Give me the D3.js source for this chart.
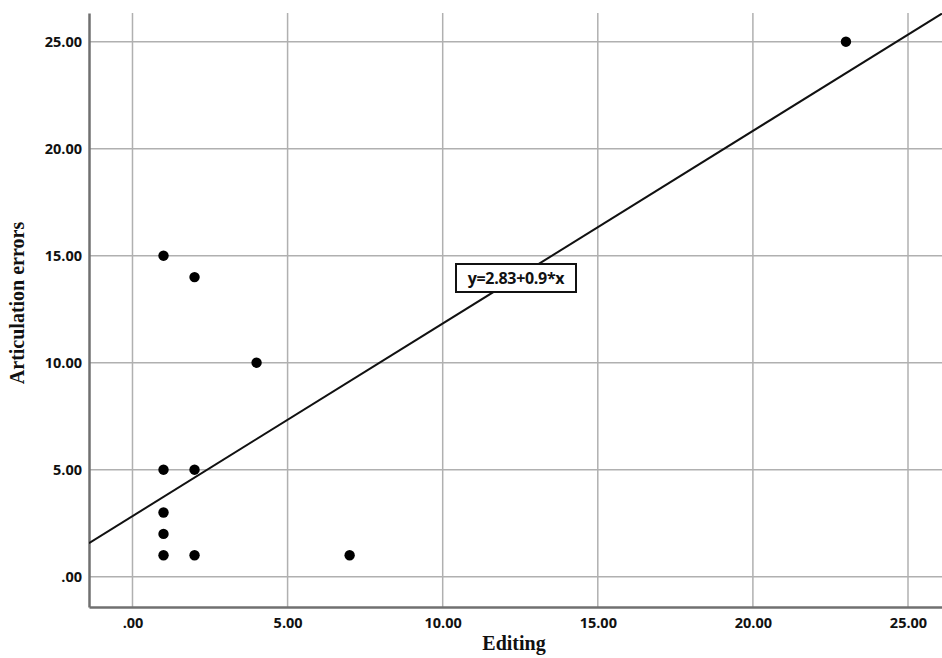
<!DOCTYPE html>
<html>
<head>
<meta charset="utf-8">
<title>Editing vs Articulation errors</title>
<script src="https://d3js.org/d3.v7.min.js"></script>
<style>
  body { margin: 0; background: #fff; }
  .tick text { font-family: "Open Sans", "DejaVu Sans", sans-serif; font-weight: 700; font-size: 14.5px; fill: #111; }
  .title { font-family: "Liberation Serif", "DejaVu Serif", serif; font-weight: 700; font-size: 20px; fill: #111; }
</style>
</head>
<body>
<svg id="chart" width="942" height="658"></svg>
<script>
// data
var editing = [1, 2, 4, 1, 2, 1, 1, 1, 2, 7, 23];
var articulation = [15, 14, 10, 5, 5, 3, 2, 1, 1, 1, 25];
var tickValues = [0, 5, 10, 15, 20, 25];
var intercept = 2.83, slope = 0.9;
var fitLabel = "y=2.83+0.9*x";

var svg = d3.select("#chart");
var pLeft = 89, pRight = 942, pTop = 13, pBottom = 607;

var x = d3.scaleLinear().domain([-1.402, 26.096]).range([pLeft, pRight]);
var y = d3.scaleLinear().domain([-1.416, 26.34]).range([pBottom, pTop]);

function fmt(d) { return d === 0 ? ".00" : d3.format(".2f")(d); }

svg.append("defs").append("clipPath").attr("id", "clip")
  .append("rect").attr("x", pLeft).attr("y", pTop).attr("width", pRight - pLeft).attr("height", pBottom - pTop);

// grid lines
svg.append("g").selectAll("line").data(tickValues).join("line")
  .attr("x1", d => x(d)).attr("x2", d => x(d))
  .attr("y1", pTop).attr("y2", pBottom)
  .attr("stroke", "#b0b0b0").attr("stroke-width", 1.5);
svg.append("g").selectAll("line").data(tickValues).join("line")
  .attr("x1", pLeft).attr("x2", pRight)
  .attr("y1", d => y(d)).attr("y2", d => y(d))
  .attr("stroke", "#b0b0b0").attr("stroke-width", 1.5);

// axes
var xAxis = svg.append("g").attr("transform", "translate(0," + pBottom + ")")
  .call(d3.axisBottom(x).tickValues(tickValues).tickFormat(fmt).tickSize(0).tickPadding(11));
var yAxis = svg.append("g").attr("transform", "translate(" + pLeft + ",0)")
  .call(d3.axisLeft(y).tickValues(tickValues).tickFormat(fmt).tickSize(0).tickPadding(7));
xAxis.select(".domain").attr("stroke", "#707070").attr("stroke-width", 2.5);
yAxis.select(".domain").attr("stroke", "#707070").attr("stroke-width", 2.5);

// fit line
var xd = x.domain();
svg.append("line")
  .attr("clip-path", "url(#clip)")
  .attr("x1", x(xd[0])).attr("y1", y(intercept + slope * xd[0]))
  .attr("x2", x(xd[1])).attr("y2", y(intercept + slope * xd[1]))
  .attr("stroke", "#111").attr("stroke-width", 2);

// points
svg.append("g").selectAll("circle").data(editing).join("circle")
  .attr("cx", d => x(d))
  .attr("cy", (d, i) => y(articulation[i]))
  .attr("r", 5.2)
  .attr("fill", "#000");

// fit label
var lab = svg.append("g").attr("transform", "translate(516,278)");
lab.append("rect")
  .attr("x", -60).attr("y", -14).attr("width", 120).attr("height", 28)
  .attr("fill", "#fff").attr("stroke", "#111").attr("stroke-width", 2);
lab.append("text").attr("text-anchor", "middle").attr("dy", "0.35em")
  .style("font-family", "'Open Sans', 'DejaVu Sans', sans-serif")
  .style("font-weight", 700).style("font-size", "16px").style("fill", "#111")
  .style("letter-spacing", "-0.3px")
  .text(fitLabel);

// axis titles
svg.append("text").attr("class", "title").attr("text-anchor", "middle")
  .attr("x", 514).attr("y", 650).text("Editing");
svg.append("text").attr("class", "title").attr("text-anchor", "middle")
  .attr("transform", "translate(24,303) rotate(-90)").text("Articulation errors");
</script>
</body>
</html>
